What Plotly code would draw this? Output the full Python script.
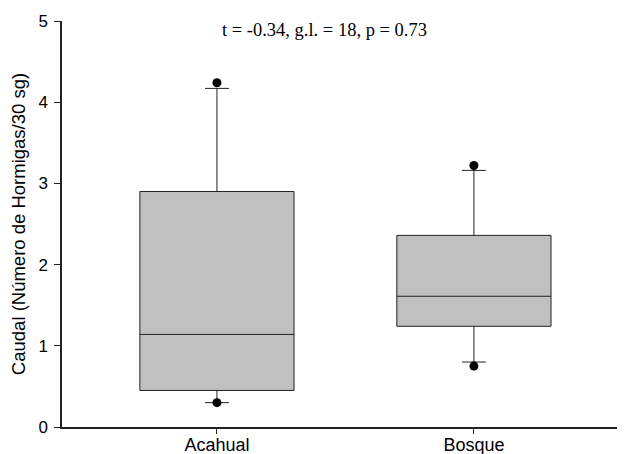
import plotly.graph_objects as go

categories = ["Acahual", "Bosque"]
q1 = [0.45, 1.24]
median = [1.14, 1.61]
q3 = [2.90, 2.36]
lower_whisker = [0.30, 0.80]
upper_whisker = [4.17, 3.16]
point_cats = ["Acahual", "Acahual", "Bosque", "Bosque"]
point_vals = [4.24, 0.30, 3.22, 0.75]
y_ticks = [0, 1, 2, 3, 4, 5]
stat_text = "t = -0.34, g.l. = 18, p = 0.73"

fig = go.Figure()
fig.add_trace(go.Box(
    x=categories, q1=q1, median=median, q3=q3,
    lowerfence=lower_whisker, upperfence=upper_whisker,
    width=0.6, whiskerwidth=0.155,
    fillcolor="#c0c0c0",
    line=dict(color="#222222", width=1),
    boxpoints=False, hoverinfo="skip",
))
fig.add_trace(go.Scatter(
    x=point_cats, y=point_vals, mode="markers",
    marker=dict(color="black", size=9),
    hoverinfo="skip",
))

# page body has an 8px default margin, so the figure is offset by 8px
fig.update_layout(
    width=617, height=446,
    margin=dict(l=54, r=0, t=13, b=27),
    plot_bgcolor="white", paper_bgcolor="white",
    showlegend=False,
    font=dict(family="Arial, Liberation Sans", color="black", size=18),
    annotations=[dict(
        text=stat_text, xref="paper", yref="paper",
        x=(324 - 62) / (625 - 62), y=1 + (21 - 30) / 406, showarrow=False,
        xanchor="center", yanchor="middle",
        font=dict(family="Liberation Serif, Times New Roman", size=18.5, color="black"),
    )],
)
fig.update_xaxes(
    type="category", range=[-0.603, 1.588],
    showline=True, linecolor="#222222", linewidth=1.5,
    ticks="outside", ticklen=5, tickcolor="#222222",
    showgrid=False, zeroline=False, automargin=False,
    tickfont=dict(size=18), ticklabelstandoff=-4,
)
fig.update_yaxes(
    range=[0, 5], tickvals=y_ticks,
    showline=True, linecolor="#222222", linewidth=1.5,
    ticks="outside", ticklen=6, tickcolor="#222222",
    showgrid=False, zeroline=False, automargin=False,
    tickfont=dict(size=17), ticklabelstandoff=3,
    title=dict(text="Caudal (Número de Hormigas/30 sg)", font=dict(size=18.5), standoff=12),
)

fig.write_html("out.html")
